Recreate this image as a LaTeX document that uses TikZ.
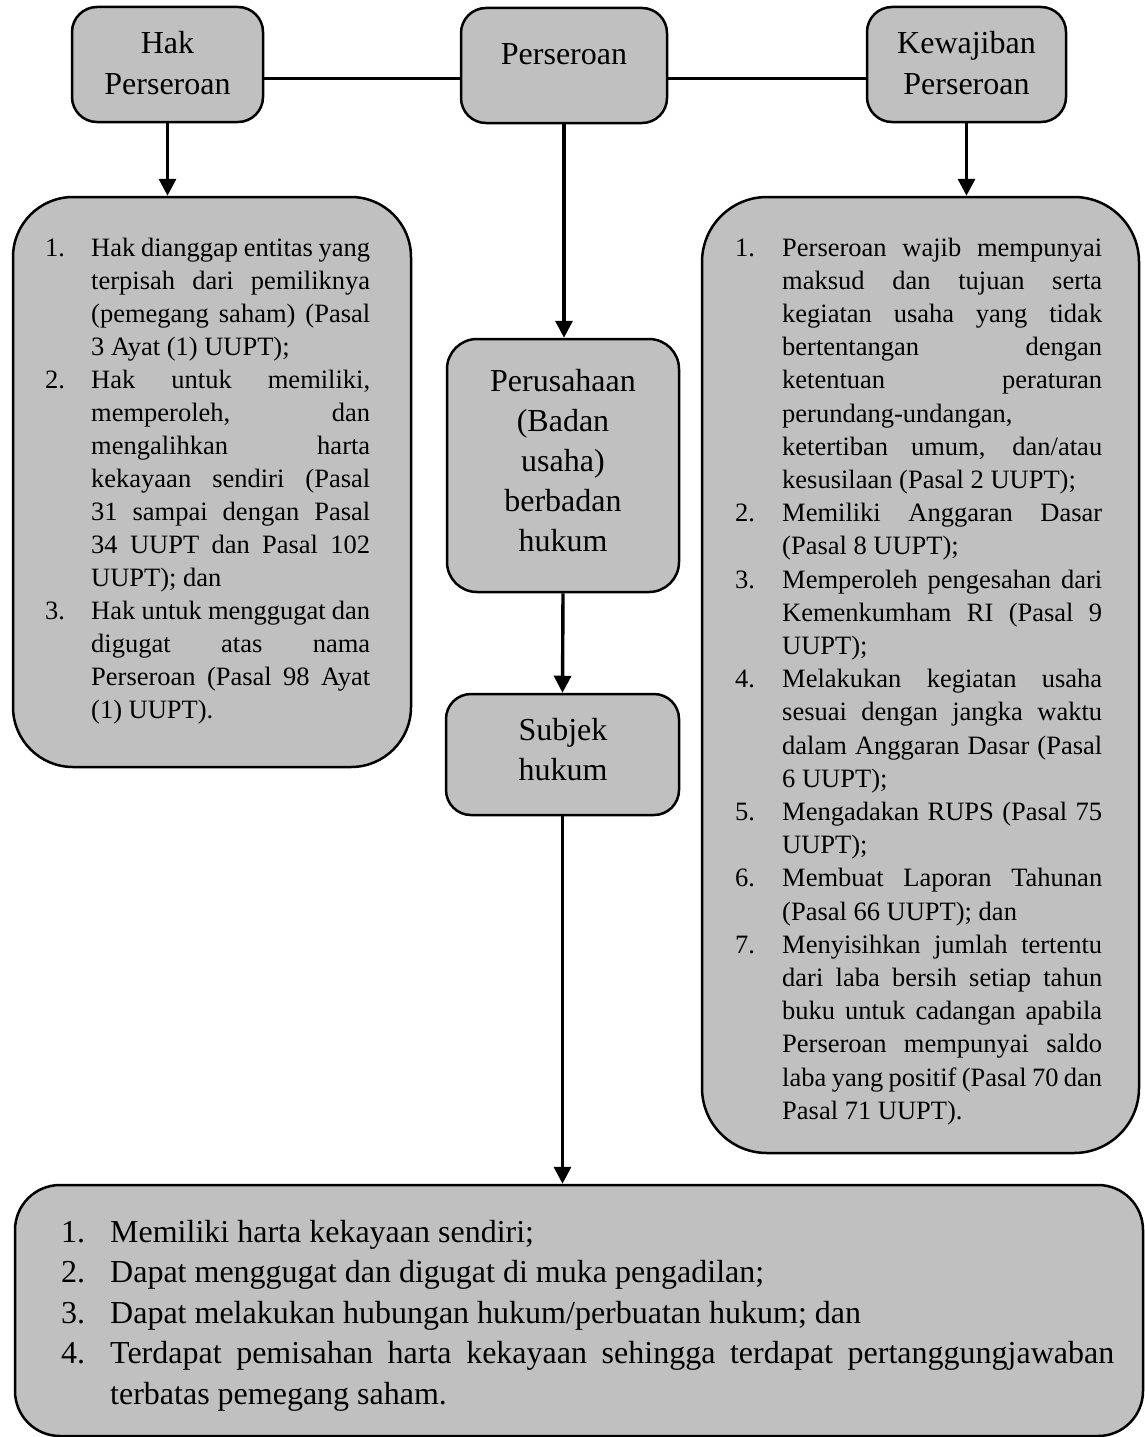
\documentclass[tikz,border=0pt]{standalone}
\usepackage{fontspec}
\setmainfont{Liberation Serif}
\usetikzlibrary{arrows.meta}

\definecolor{boxgray}{RGB}{192,192,192}

% widths of the number column and the text column of a numbered list
\newlength\numw
\newlength\txtw
% a justified list line and a ragged (final) list line
\newcommand\itemJ[2]{\makebox[\numw][l]{#1}\makebox[\txtw][s]{#2}\par}
\newcommand\itemL[2]{\makebox[\numw][l]{#1}#2\par}

\tikzset{
  box/.style={draw=black, line width=2.5pt, fill=boxgray, inner sep=0pt, rounded corners=#1},
  box/.default=25pt,
  conn/.style={line width=3.4pt},
  arr/.style={conn, -{Triangle[length=17pt,width=17pt]}},
  txt/.style={inner sep=0pt, anchor=base},
  listtxt/.style={inner sep=0pt, anchor=base west},
}

\begin{document}
\begin{tikzpicture}[x=1pt, y=-1pt]
  \useasboundingbox (0,0) rectangle (1144,1437);

  % boxes
  \node[box, minimum width=191pt, minimum height=115pt] (hak)   at (167.5,64.5) {};
  \node[box, minimum width=206pt, minimum height=115pt] (pers)  at (564,65.5) {};
  \node[box, minimum width=199pt, minimum height=115pt] (kew)   at (966.5,64.5) {};
  \node[box=60pt, minimum width=398pt, minimum height=570pt] (lbox) at (212,482) {};
  \node[box=65pt, minimum width=437pt, minimum height=956pt] (rbox) at (920.5,675) {};
  \node[box=30pt, minimum width=232pt, minimum height=253pt] (perus) at (563,465.5) {};
  \node[box=25pt, minimum width=233pt, minimum height=121pt] (subj)  at (562.5,754.5) {};
  \node[box=45pt, minimum width=1128pt, minimum height=251pt] (bbox) at (579,1310.5) {};

  % titles of the small boxes
  \node[txt] (hakT) at (167.5,54) {\parbox[t]{190pt}{\centering\fontsize{32}{40}\selectfont Hak\\Perseroan}};
  \node[txt] (persT) at (564,65) {\parbox[t]{200pt}{\centering\fontsize{32}{40}\selectfont Perseroan}};
  \node[txt] (kewT) at (966.5,54) {\parbox[t]{195pt}{\centering\fontsize{32}{40}\selectfont Kewajiban\\Perseroan}};
  \node[txt] (perusT) at (563,391) {\parbox[t]{230pt}{\centering\fontsize{32}{40}\selectfont Perusahaan\\(Badan\\usaha)\\berbadan\\hukum}};
  \node[txt] (subjT) at (563,740) {\parbox[t]{230pt}{\centering\fontsize{32}{40}\selectfont Subjek\\hukum}};

  % rights of the company
  \node[listtxt] (lboxT) at (45,256) {\parbox[t]{325pt}{%
    \setlength\numw{46pt}\setlength\txtw{279pt}\setlength\parskip{0pt}%
    \fontsize{26.5}{33}\selectfont
    \itemJ{1.}{Hak dianggap entitas yang}
    \itemJ{}{terpisah dari pemiliknya}
    \itemJ{}{(pemegang saham) (Pasal}
    \itemL{}{3 Ayat (1) UUPT);}
    \itemJ{2.}{Hak untuk memiliki,}
    \itemJ{}{memperoleh, dan}
    \itemJ{}{mengalihkan harta}
    \itemJ{}{kekayaan sendiri (Pasal}
    \itemJ{}{31 sampai dengan Pasal}
    \itemJ{}{34 UUPT dan Pasal 102}
    \itemL{}{UUPT); dan}
    \itemJ{3.}{Hak untuk menggugat dan}
    \itemJ{}{digugat atas nama}
    \itemJ{}{Perseroan (Pasal 98 Ayat}
    \itemL{}{(1) UUPT).}}};

  % obligations of the company
  \node[listtxt] (rboxT) at (735,256) {\parbox[t]{367pt}{%
    \setlength\numw{47pt}\setlength\txtw{320pt}\setlength\parskip{0pt}%
    \fontsize{26.5}{33.2}\selectfont
    \itemJ{1.}{Perseroan wajib mempunyai}
    \itemJ{}{maksud dan tujuan serta}
    \itemJ{}{kegiatan usaha yang tidak}
    \itemJ{}{bertentangan dengan}
    \itemJ{}{ketentuan peraturan}
    \itemL{}{perundang-undangan,}
    \itemJ{}{ketertiban umum, dan/atau}
    \itemL{}{kesusilaan (Pasal 2 UUPT);}
    \itemJ{2.}{Memiliki Anggaran Dasar}
    \itemL{}{(Pasal 8 UUPT);}
    \itemJ{3.}{Memperoleh pengesahan dari}
    \itemJ{}{Kemenkumham RI (Pasal 9}
    \itemL{}{UUPT);}
    \itemJ{4.}{Melakukan kegiatan usaha}
    \itemJ{}{sesuai dengan jangka waktu}
    \itemJ{}{dalam Anggaran Dasar (Pasal}
    \itemL{}{6 UUPT);}
    \itemJ{5.}{Mengadakan RUPS (Pasal 75}
    \itemL{}{UUPT);}
    \itemJ{6.}{Membuat Laporan Tahunan}
    \itemL{}{(Pasal 66 UUPT); dan}
    \itemJ{7.}{Menyisihkan jumlah tertentu}
    \itemJ{}{dari laba bersih setiap tahun}
    \itemJ{}{buku untuk cadangan apabila}
    \itemJ{}{Perseroan mempunyai saldo}
    \itemJ{}{laba yang positif (Pasal 70 dan}
    \itemL{}{Pasal 71 UUPT).}}};

  % characteristics of a legal entity
  \node[listtxt] (bboxT) at (61,1242) {\parbox[t]{1053pt}{%
    \setlength\numw{49pt}\setlength\txtw{1004pt}\setlength\parskip{0pt}%
    \fontsize{32}{40.5}\selectfont
    \itemL{1.}{Memiliki harta kekayaan sendiri;}
    \itemL{2.}{Dapat menggugat dan digugat di muka pengadilan;}
    \itemL{3.}{Dapat melakukan hubungan hukum/perbuatan hukum; dan}
    \itemJ{4.}{Terdapat pemisahan harta kekayaan sehingga terdapat pertanggungjawaban}
    \itemL{}{terbatas pemegang saham.}}};

  % connectors
  \coordinate (jy) at (0,78.5);
  \draw[conn] (hak.east |- jy) -- (pers.west |- jy);
  \draw[conn] (pers.east |- jy) -- (kew.west |- jy);
  \draw[arr] (hak.south) -- (hak.south |- lbox.north);
  \draw[arr] (kew.south) -- (kew.south |- rbox.north);
  \draw[arr] (pers.south) -- (pers.south |- perus.north);
  \draw[arr] (perus.south) -- (subj.north);
  \draw[arr] (subj.south) -- (subj.south |- bbox.north);
\end{tikzpicture}
\end{document}
